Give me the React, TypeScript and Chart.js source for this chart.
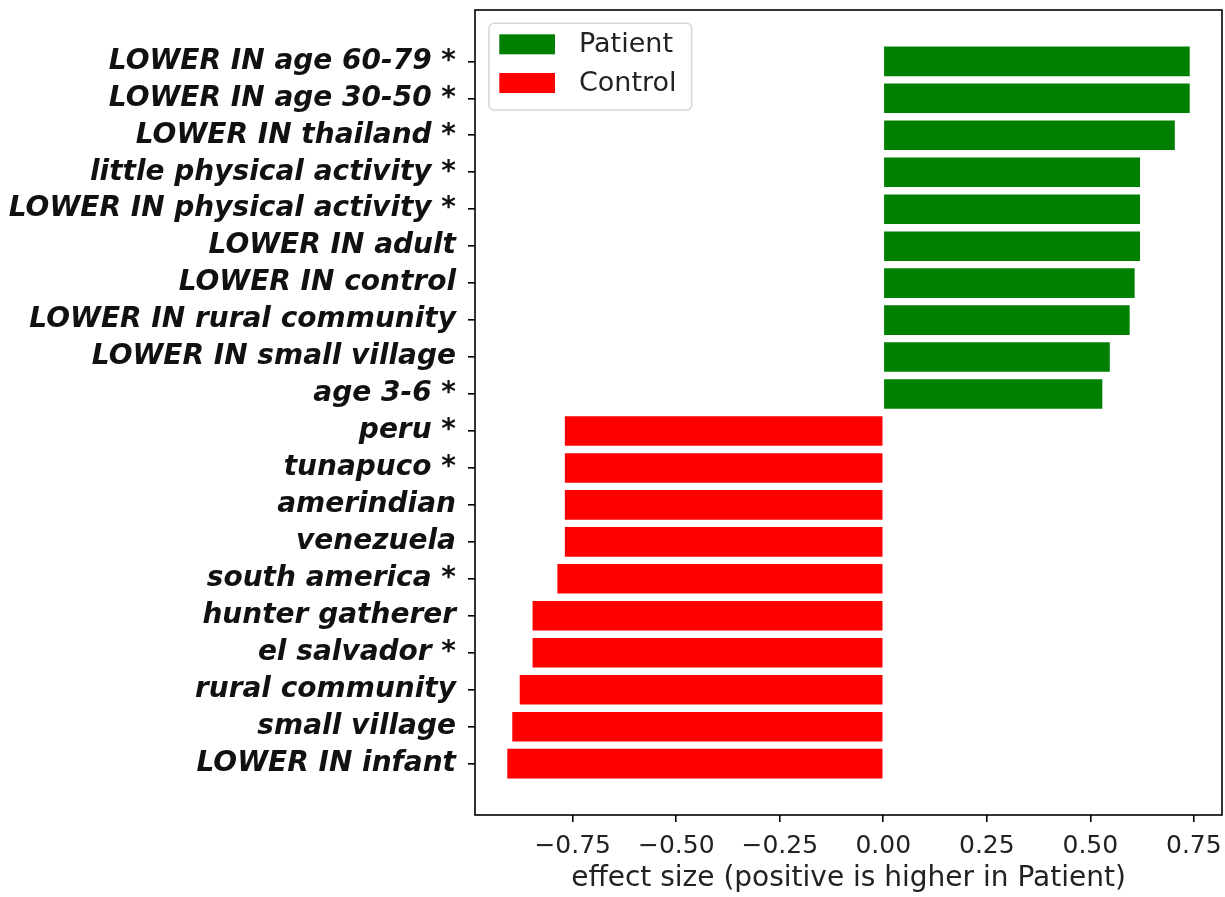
import React, { useEffect, useRef } from 'react';
import { Chart, registerables } from 'chart.js';

Chart.register(...registerables);

const categories: string[] = [
  'LOWER IN age 60-79 *',
  'LOWER IN age 30-50 *',
  'LOWER IN thailand *',
  'little physical activity *',
  'LOWER IN physical activity *',
  'LOWER IN adult',
  'LOWER IN control',
  'LOWER IN rural community',
  'LOWER IN small village',
  'age 3-6 *',
  'peru *',
  'tunapuco *',
  'amerindian',
  'venezuela',
  'south america *',
  'hunter gatherer',
  'el salvador *',
  'rural community',
  'small village',
  'LOWER IN infant',
];

const patientValues: number[] = [0.74, 0.74, 0.704, 0.62, 0.62, 0.62, 0.607, 0.595, 0.547, 0.529];
const controlValues: number[] = [-0.769, -0.769, -0.769, -0.769, -0.787, -0.847, -0.847, -0.878, -0.896, -0.908];

const seriesNames: string[] = ['Patient', 'Control'];
const seriesColors: string[] = ['#008000', '#ff0000'];

const xTickValues: number[] = [-0.75, -0.5, -0.25, 0, 0.25, 0.5, 0.75];
const xAxisMin = -0.986;
const xAxisMax = 0.818;
const xAxisTitle = 'effect size (positive is higher in Patient)';

const FONT = 'DejaVu Sans';

const frameAndLegend = {
  id: 'frameAndLegend',
  afterDatasetsDraw(chart: any) {
    const { ctx, chartArea: a } = chart;
    ctx.save();
    ctx.strokeStyle = '#000';
    ctx.lineWidth = 1.6;
    ctx.strokeRect(a.left, a.top, a.right - a.left, a.bottom - a.top);

    const lx = a.left + 14;
    const ly = a.top + 13.3;
    const lw = 202.7;
    const lh = 86.7;
    ctx.beginPath();
    if ((ctx as any).roundRect) {
      (ctx as any).roundRect(lx, ly, lw, lh, 5);
    } else {
      ctx.rect(lx, ly, lw, lh);
    }
    ctx.fillStyle = 'rgba(255,255,255,0.8)';
    ctx.fill();
    ctx.strokeStyle = 'rgba(204,204,204,0.8)';
    ctx.lineWidth = 1.6;
    ctx.stroke();

    chart.data.datasets.forEach((ds: any, i: number) => {
      const rowY = ly + 21 + i * 38.7;
      ctx.fillStyle = ds.backgroundColor;
      ctx.fillRect(lx + 10.3, rowY - 10, 55.7, 20);
      ctx.fillStyle = '#222';
      ctx.font = `27px "${FONT}"`;
      ctx.textBaseline = 'middle';
      ctx.textAlign = 'left';
      ctx.fillText(ds.label, lx + 90, rowY + 1);
    });
    ctx.restore();
  },
};

export default function App() {
  const canvasRef = useRef<HTMLCanvasElement | null>(null);

  useEffect(() => {
    if (!canvasRef.current) return;
    const n = categories.length;
    const yMargin = 0.05 * (n - 1 + 0.8);
    const yMin = -0.4 - yMargin;
    const yMax = n - 1 + 0.4 + yMargin;

    const patientData = patientValues.map((v, i) => ({ x: v, y: i }));
    const controlData = controlValues.map((v, i) => ({ x: v, y: patientValues.length + i }));

    Chart.defaults.font.family = FONT;

    const chart = new Chart(canvasRef.current, {
      type: 'bar',
      data: {
        datasets: [
          {
            label: seriesNames[0],
            data: patientData as any,
            backgroundColor: seriesColors[0],
            borderWidth: 0,
          },
          {
            label: seriesNames[1],
            data: controlData as any,
            backgroundColor: seriesColors[1],
            borderWidth: 0,
          },
        ],
      },
      options: {
        indexAxis: 'y',
        animation: false,
        responsive: false,
        maintainAspectRatio: false,
        layout: { padding: { left: 0, right: 3, top: 10, bottom: 0 } },
        datasets: {
          bar: {
            grouped: false,
            barPercentage: 0.8,
            categoryPercentage: 1.0,
          },
        } as any,
        plugins: {
          legend: { display: false },
          tooltip: { enabled: false },
        },
        scales: {
          x: {
            type: 'linear',
            position: 'bottom',
            min: xAxisMin,
            max: xAxisMax,
            offset: false,
            afterBuildTicks: (scale: any) => {
              scale.ticks = xTickValues.map((v) => ({ value: v }));
            },
            afterFit: (scale: any) => {
              scale.height = 82;
              scale.paddingLeft = 0;
              scale.paddingRight = 0;
            },
            border: { display: false },
            grid: {
              offset: false,
              drawOnChartArea: false,
              drawTicks: true,
              tickLength: 7,
              color: '#000',
              lineWidth: 1.6,
            },
            ticks: {
              autoSkip: false,
              maxRotation: 0,
              padding: 9,
              color: '#222',
              font: { family: FONT, size: 25 },
              callback: (v: any) => Number(v).toFixed(2).replace('-', '\u2212'),
            },
            title: {
              display: true,
              text: xAxisTitle,
              color: '#222',
              font: { family: FONT, size: 28 },
              padding: { top: 0, bottom: 1 },
            },
          },
          y: {
            type: 'linear',
            position: 'left',
            reverse: true,
            offset: false,
            min: yMin,
            max: yMax,
            afterBuildTicks: (scale: any) => {
              scale.ticks = categories.map((_, i) => ({ value: i }));
            },
            afterFit: (scale: any) => {
              scale.width = 475;
              scale.paddingTop = 0;
              scale.paddingBottom = 0;
            },
            border: { display: false },
            grid: {
              offset: false,
              drawOnChartArea: false,
              drawTicks: true,
              tickLength: 7,
              color: '#000',
              lineWidth: 1.6,
            },
            ticks: {
              autoSkip: false,
              padding: 12,
              color: '#111',
              font: { family: FONT, size: 28, weight: 'bold', style: 'italic' },
              callback: (v: any) => categories[Math.round(Number(v))] ?? '',
            },
          },
        },
      } as any,
      plugins: [frameAndLegend],
    });

    return () => chart.destroy();
  }, []);

  return (
    <div style={{ position: 'absolute', left: 0, top: 0, width: 1225, height: 897, background: '#fff' }}>
      <canvas ref={canvasRef} width={1225} height={897} style={{ display: 'block' }} />
    </div>
  );
}
